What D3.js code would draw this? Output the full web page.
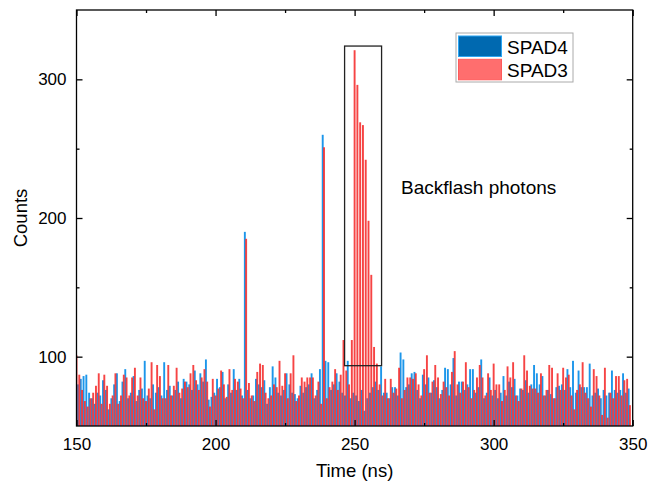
<!DOCTYPE html>
<html>
<head>
<meta charset="utf-8">
<script src="https://cdn.jsdelivr.net/npm/d3@7"></script>
<style>
  body { margin: 0; background: #fff; }
  svg text { font-family: "Liberation Sans", Arial, sans-serif; fill: #000; }
</style>
</head>
<body>
<div id="chart"></div>
<script>
// Time bins (ns), one count per bin for each detector
const times = d3.range(150, 350);

const spad4 = [
  72, 80, 84, 86, 87, 74, 70, 66, 74, 72,
  83, 76, 62, 70, 80, 88, 68, 82, 91, 70,
  74, 86, 68, 76, 77, 97, 72, 70, 80, 74,
  78, 72, 96, 76, 79, 72, 76, 82, 70, 84,
  82, 80, 76, 90, 80, 88, 82, 98, 69, 71,
  74, 84, 78, 89, 70, 80, 74, 91, 76, 84,
  72, 190, 76, 70, 72, 84, 80, 78, 83, 66,
  78, 93, 85, 74, 72, 76, 88, 80, 74, 73,
  70, 79, 74, 78, 80, 88, 70, 76, 91, 260,
  97, 96, 76, 80, 88, 82, 74, 72, 97, 70,
  74, 72, 68, 76, 61, 70, 74, 78, 82, 76,
  93, 74, 74, 70, 78, 78, 72, 103, 98, 78,
  80, 88, 89, 76, 70, 87, 80, 85, 74, 83,
  78, 70, 76, 92, 91, 80, 99, 72, 82, 82,
  76, 80, 91, 91, 74, 78, 98, 70, 74, 85,
  72, 76, 70, 74, 86, 72, 82, 78, 84, 72,
  77, 76, 83, 74, 80, 94, 88, 80, 86, 72,
  76, 73, 70, 78, 79, 80, 76, 91, 78, 97,
  74, 90, 78, 78, 78, 95, 72, 74, 77, 70,
  76, 72, 74, 90, 76, 74, 76, 88, 74, 77
];

const spad3 = [
  101, 87, 76, 68, 64, 70, 74, 79, 88, 66,
  87, 79, 66, 72, 88, 66, 72, 87, 85, 72,
  85, 92, 72, 85, 70, 68, 77, 96, 62, 94,
  86, 70, 70, 94, 72, 79, 92, 74, 77, 82,
  78, 88, 94, 83, 76, 85, 91, 82, 64, 84,
  72, 77, 90, 80, 71, 91, 76, 84, 82, 77,
  70, 185, 81, 72, 68, 89, 95, 94, 74, 70,
  72, 80, 78, 97, 79, 88, 70, 88, 101, 68,
  72, 85, 82, 85, 85, 85, 72, 82, 66, 251,
  70, 78, 82, 91, 76, 87, 112, 90, 80, 112,
  321, 296, 269, 267, 242, 198, 159, 107, 95, 80,
  72, 84, 70, 84, 74, 77, 92, 70, 76, 85,
  85, 84, 88, 80, 72, 91, 101, 74, 82, 94,
  85, 73, 82, 78, 72, 89, 104, 80, 74, 82,
  96, 78, 70, 76, 85, 94, 85, 72, 88, 76,
  95, 80, 80, 68, 76, 93, 85, 96, 72, 68,
  77, 101, 90, 79, 77, 77, 74, 88, 72, 76,
  94, 92, 70, 88, 76, 92, 85, 87, 72, 62,
  76, 80, 96, 74, 70, 64, 91, 86, 72, 58,
  92, 56, 74, 70, 86, 86, 72, 83, 84, 65
];

const xTicks = [150, 200, 250, 300, 350];
const xMinor = [175, 225, 275, 325];
const yTicks = [100, 200, 300];
const yMinor = [150, 250];

// Box round the backflash peak: [t0, t1] and [c0, c1]
const boxTime = [246.4, 259.7];
const boxCounts = [93.5, 324];

const seriesNames = ["SPAD4", "SPAD3"];

// Layout
const W = 662, H = 483;
const plot = {left: 76.5, right: 632.7, top: 10, bottom: 426};

const svg = d3.select("#chart").append("svg")
    .attr("width", W)
    .attr("height", H);

const x = d3.scaleLinear().domain([150, 350]).range([plot.left, plot.right]);
const y = d3.scaleLinear().domain([50, 350]).range([plot.bottom, plot.top]);

svg.append("clipPath").attr("id", "clip")
  .append("rect")
    .attr("x", plot.left).attr("y", plot.top)
    .attr("width", plot.right - plot.left)
    .attr("height", plot.bottom - plot.top);

const barW = 1.9;
const blueShift = -1.3;

const bars = svg.append("g").attr("clip-path", "url(#clip)");

// SPAD4 first, SPAD3 drawn over it
bars.selectAll("rect.s4")
  .data(times)
  .enter().append("rect")
    .attr("class", "s4")
    .attr("x", (d) => x(d) + blueShift - barW / 2)
    .attr("y", (d, i) => y(spad4[i]))
    .attr("width", barW)
    .attr("height", (d, i) => y(50) - y(spad4[i]))
    .attr("fill", "#1c96ea");

bars.selectAll("rect.s3")
  .data(times)
  .enter().append("rect")
    .attr("class", "s3")
    .attr("x", (d) => x(d) - barW / 2)
    .attr("y", (d, i) => y(spad3[i]))
    .attr("width", barW)
    .attr("height", (d, i) => y(50) - y(spad3[i]))
    .attr("fill", "#f52a2a")
    .attr("fill-opacity", 0.88);

// Frame
svg.append("rect")
    .attr("x", plot.left).attr("y", plot.top)
    .attr("width", plot.right - plot.left)
    .attr("height", plot.bottom - plot.top)
    .attr("fill", "none")
    .attr("stroke", "#000")
    .attr("stroke-width", 1.3);

// Axes with inward ticks, mirrored on top and right
svg.append("g")
    .attr("transform", `translate(0,${plot.bottom})`)
    .call(d3.axisBottom(x).tickValues(xTicks).tickSize(-6).tickPadding(12).tickFormat(d3.format("d")));
svg.append("g")
    .attr("transform", `translate(0,${plot.top})`)
    .call(d3.axisTop(x).tickValues(xTicks).tickSize(-6).tickFormat(""));
svg.append("g")
    .attr("transform", `translate(${plot.left},0)`)
    .call(d3.axisLeft(y).tickValues(yTicks).tickSize(-6).tickPadding(10).tickFormat(d3.format("d")));
svg.append("g")
    .attr("transform", `translate(${plot.right},0)`)
    .call(d3.axisRight(y).tickValues(yTicks).tickSize(-6).tickFormat(""));

svg.append("g").attr("transform", `translate(0,${plot.bottom})`)
    .call(d3.axisBottom(x).tickValues(xMinor).tickSize(-3).tickFormat(""));
svg.append("g").attr("transform", `translate(0,${plot.top})`)
    .call(d3.axisTop(x).tickValues(xMinor).tickSize(-3).tickFormat(""));
svg.append("g").attr("transform", `translate(${plot.left},0)`)
    .call(d3.axisLeft(y).tickValues(yMinor).tickSize(-3).tickFormat(""));
svg.append("g").attr("transform", `translate(${plot.right},0)`)
    .call(d3.axisRight(y).tickValues(yMinor).tickSize(-3).tickFormat(""));

svg.selectAll(".domain").remove();
svg.selectAll(".tick line").attr("stroke", "#000").attr("stroke-width", 1.3);
svg.selectAll(".tick text").style("font-size", "17px").attr("fill", "#000");

// Axis titles
svg.append("text")
    .attr("x", (plot.left + plot.right) / 2)
    .attr("y", 477)
    .attr("text-anchor", "middle")
    .style("font-size", "18.5px")
    .text("Time (ns)");

svg.append("text")
    .attr("transform", `translate(27,${(plot.top + plot.bottom) / 2}) rotate(-90)`)
    .attr("text-anchor", "middle")
    .style("font-size", "18.5px")
    .text("Counts");

// Box round the peak and its label
svg.append("rect")
    .attr("x", x(boxTime[0]))
    .attr("y", y(boxCounts[1]))
    .attr("width", x(boxTime[1]) - x(boxTime[0]))
    .attr("height", y(boxCounts[0]) - y(boxCounts[1]))
    .attr("fill", "none")
    .attr("stroke", "#222")
    .attr("stroke-width", 1.3);

svg.append("text")
    .attr("x", 401)
    .attr("y", 194)
    .style("font-size", "19px")
    .text("Backflash photons");

// Legend
const legend = svg.append("g").attr("transform", "translate(456,33)");
legend.append("rect")
    .attr("width", 117).attr("height", 49)
    .attr("fill", "#fff")
    .attr("stroke", "#aaa")
    .attr("stroke-width", 1);
const swatch = [
  {fill: "#0069b0", stroke: "#2aa6f4"},
  {fill: "#ff6e6e", stroke: "#ff5a5a"}
];
seriesNames.forEach((name, i) => {
  legend.append("rect")
      .attr("x", 2.5).attr("y", 3 + i * 23.3)
      .attr("width", 43).attr("height", 20.5)
      .attr("fill", swatch[i].fill)
      .attr("stroke", swatch[i].stroke)
      .attr("stroke-width", 1);
  legend.append("text")
      .attr("x", 51).attr("y", 20.5 + i * 23.3)
      .style("font-size", "19px")
      .text(name);
});
</script>
</body>
</html>
